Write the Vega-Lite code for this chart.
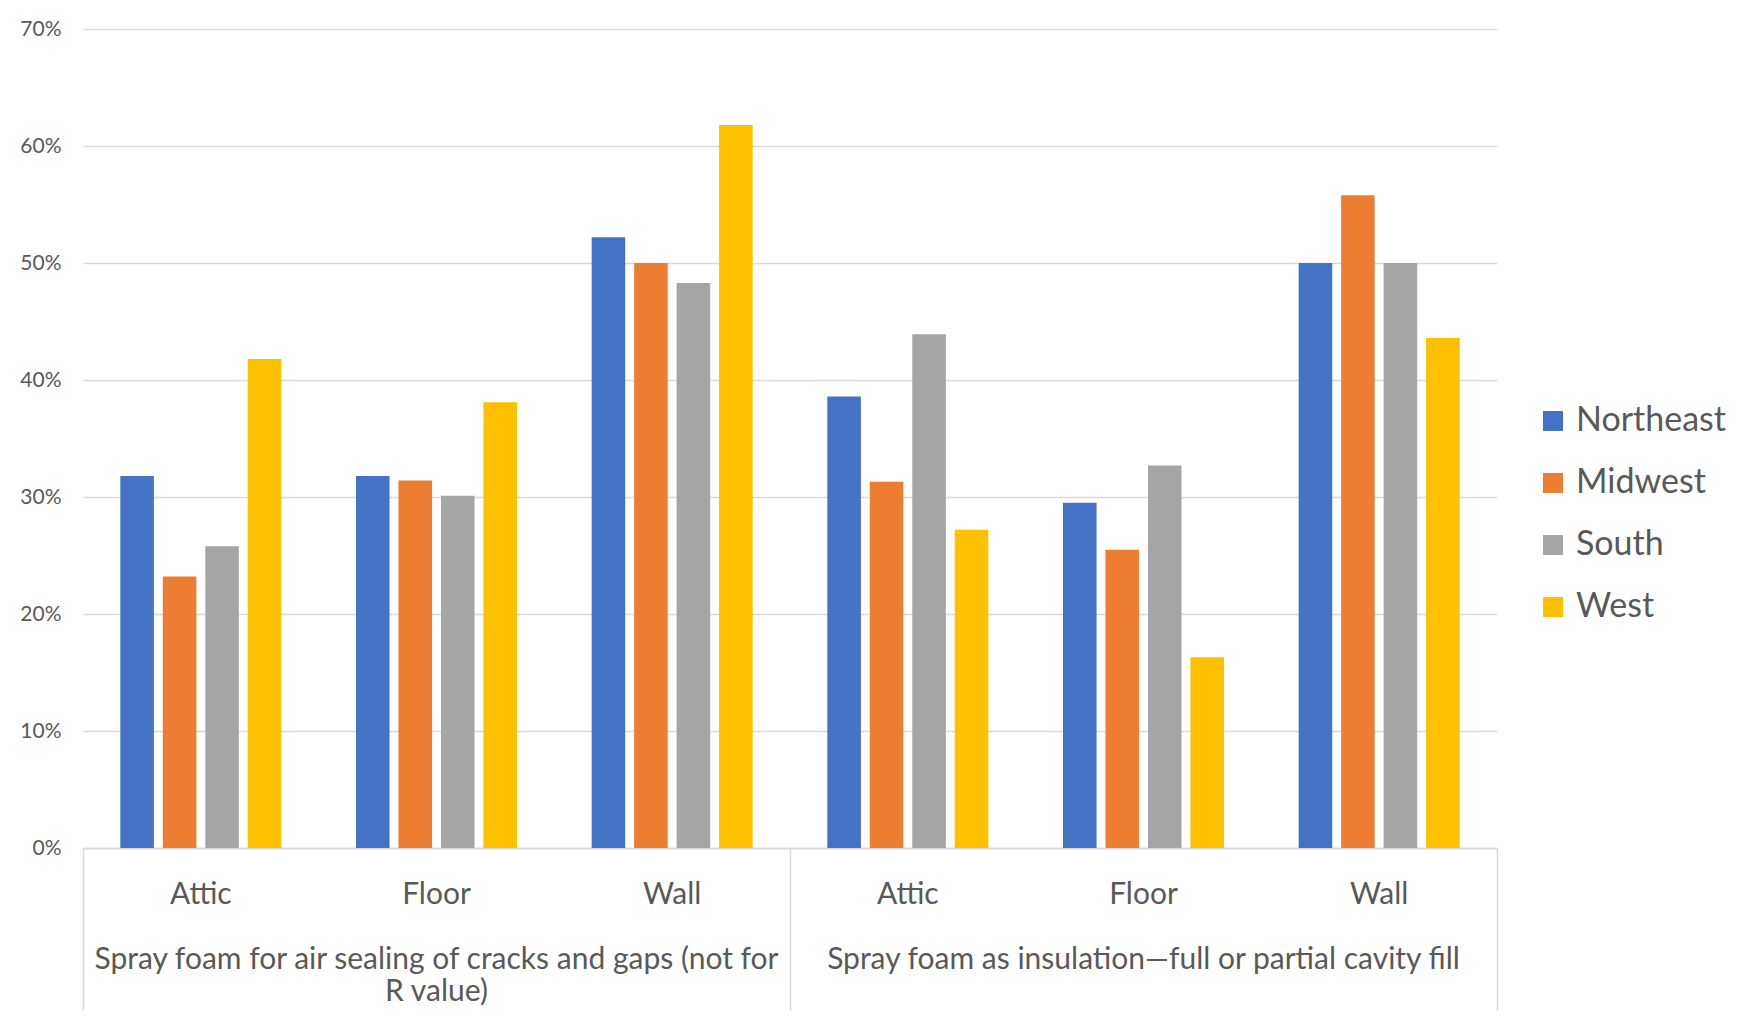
{
  "$schema": "https://vega.github.io/schema/vega-lite/v6.json",
  "autosize": {"type": "none"},
  "padding": {"left": 83, "top": 29, "right": 255, "bottom": 175},
  "width": 1414,
  "height": 819,
  "background": "white",
  "config": {
    "font": "Lato",
    "view": {"stroke": null},
    "axis": {"labelColor": "#595959", "labelFont": "Lato"},
    "legend": {"labelFont": "Lato"}
  },
  "data": {
    "values": [
      {"Group": "Spray foam for air sealing of cracks and gaps (not for R value)", "Location": "Attic", "Region": "Northeast", "Value": 0.318},
      {"Group": "Spray foam for air sealing of cracks and gaps (not for R value)", "Location": "Attic", "Region": "Midwest", "Value": 0.232},
      {"Group": "Spray foam for air sealing of cracks and gaps (not for R value)", "Location": "Attic", "Region": "South", "Value": 0.258},
      {"Group": "Spray foam for air sealing of cracks and gaps (not for R value)", "Location": "Attic", "Region": "West", "Value": 0.418},
      {"Group": "Spray foam for air sealing of cracks and gaps (not for R value)", "Location": "Floor", "Region": "Northeast", "Value": 0.318},
      {"Group": "Spray foam for air sealing of cracks and gaps (not for R value)", "Location": "Floor", "Region": "Midwest", "Value": 0.314},
      {"Group": "Spray foam for air sealing of cracks and gaps (not for R value)", "Location": "Floor", "Region": "South", "Value": 0.301},
      {"Group": "Spray foam for air sealing of cracks and gaps (not for R value)", "Location": "Floor", "Region": "West", "Value": 0.381},
      {"Group": "Spray foam for air sealing of cracks and gaps (not for R value)", "Location": "Wall", "Region": "Northeast", "Value": 0.522},
      {"Group": "Spray foam for air sealing of cracks and gaps (not for R value)", "Location": "Wall", "Region": "Midwest", "Value": 0.5},
      {"Group": "Spray foam for air sealing of cracks and gaps (not for R value)", "Location": "Wall", "Region": "South", "Value": 0.483},
      {"Group": "Spray foam for air sealing of cracks and gaps (not for R value)", "Location": "Wall", "Region": "West", "Value": 0.618},
      {"Group": "Spray foam as insulation—full or partial cavity fill", "Location": "Attic", "Region": "Northeast", "Value": 0.386},
      {"Group": "Spray foam as insulation—full or partial cavity fill", "Location": "Attic", "Region": "Midwest", "Value": 0.313},
      {"Group": "Spray foam as insulation—full or partial cavity fill", "Location": "Attic", "Region": "South", "Value": 0.439},
      {"Group": "Spray foam as insulation—full or partial cavity fill", "Location": "Attic", "Region": "West", "Value": 0.272},
      {"Group": "Spray foam as insulation—full or partial cavity fill", "Location": "Floor", "Region": "Northeast", "Value": 0.295},
      {"Group": "Spray foam as insulation—full or partial cavity fill", "Location": "Floor", "Region": "Midwest", "Value": 0.255},
      {"Group": "Spray foam as insulation—full or partial cavity fill", "Location": "Floor", "Region": "South", "Value": 0.327},
      {"Group": "Spray foam as insulation—full or partial cavity fill", "Location": "Floor", "Region": "West", "Value": 0.163},
      {"Group": "Spray foam as insulation—full or partial cavity fill", "Location": "Wall", "Region": "Northeast", "Value": 0.5},
      {"Group": "Spray foam as insulation—full or partial cavity fill", "Location": "Wall", "Region": "Midwest", "Value": 0.558},
      {"Group": "Spray foam as insulation—full or partial cavity fill", "Location": "Wall", "Region": "South", "Value": 0.5},
      {"Group": "Spray foam as insulation—full or partial cavity fill", "Location": "Wall", "Region": "West", "Value": 0.436}
    ]
  },
  "transform": [
    {"calculate": "datum.Group + '|' + datum.Location", "as": "Key"}
  ],
  "mark": {"type": "bar"},
  "encoding": {
    "x": {
      "field": "Key",
      "type": "nominal",
      "sort": null,
      "scale": {"paddingInner": 0, "paddingOuter": 0},
      "axis": {
        "title": null,
        "labelExpr": "split(datum.value, '|')[1] != 'Floor' ? split(datum.value, '|')[1] : (indexof(datum.value, 'not for') >= 0 ? ['Floor', '\u2800', 'Spray foam for air sealing of cracks and gaps (not for', 'R value)'] : ['Floor', '\u2800', split(datum.value, '|')[0]])",
        "labelAngle": 0,
        "labelFontSize": 30,
        "labelLineHeight": 32.5,
        "labelPadding": -131,
        "labelLimit": 0,
        "labelOverlap": false,
        "labelBaseline": "top",
        "labelAlign": "center",
        "bandPosition": 1,
        "tickExtra": true,
        "ticks": true,
        "tickSize": 162,
        "tickWidth": 1.5,
        "tickColor": {
          "condition": {"test": "!isValid(datum.value) || indexof(datum.value, '|Wall') >= 0", "value": "#D9D9D9"},
          "value": "transparent"
        },
        "domain": true,
        "domainColor": "#D9D9D9",
        "domainWidth": 1.5
      }
    },
    "xOffset": {
      "field": "Region",
      "type": "nominal",
      "sort": ["Northeast", "Midwest", "South", "West"],
      "scale": {"paddingInner": 0.21, "paddingOuter": 0.879}
    },
    "y": {
      "field": "Value",
      "type": "quantitative",
      "scale": {"domain": [0, 0.7], "nice": false},
      "axis": {
        "title": null,
        "format": ".0%",
        "values": [0, 0.1, 0.2, 0.3, 0.4, 0.5, 0.6, 0.7],
        "labelFontSize": 21,
        "labelPadding": 22,
        "ticks": false,
        "domain": false,
        "gridColor": "#D9D9D9",
        "gridWidth": 1.5
      }
    },
    "color": {
      "field": "Region",
      "type": "nominal",
      "scale": {
        "domain": ["Northeast", "Midwest", "South", "West"],
        "range": ["#4472C4", "#ED7D31", "#A5A5A5", "#FFC000"]
      },
      "legend": {
        "title": null,
        "orient": "none",
        "legendX": 1453,
        "legendY": 375,
        "symbolType": "square",
        "symbolSize": 400,
        "symbolStrokeWidth": 0,
        "labelFontSize": 34,
        "labelColor": "#595959",
        "labelOffset": 6,
        "rowPadding": 28
      }
    }
  }
}
